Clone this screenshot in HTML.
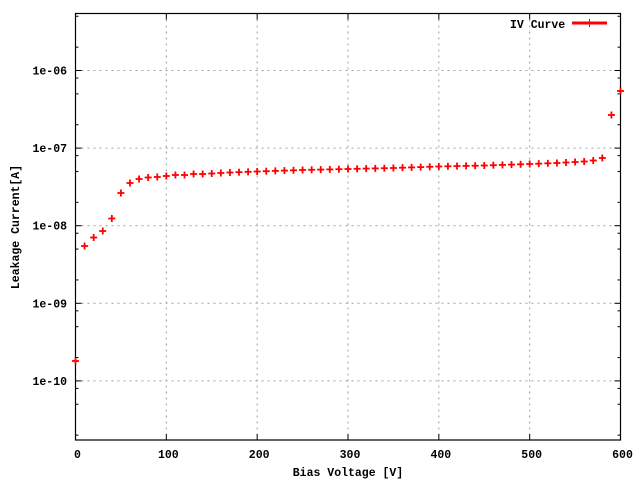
<!DOCTYPE html>
<html><head><meta charset="utf-8"><style>
html,body{margin:0;padding:0;background:#fff;}
text{font-family:"Liberation Mono","DejaVu Sans Mono",monospace;font-weight:bold;font-size:11.5px;fill:#000;}
</style></head><body>
<svg width="640" height="480" xmlns="http://www.w3.org/2000/svg" id="s">
<g id="grid" stroke="#a0a0a0" stroke-dasharray="2,4" stroke-width="1"></g>
<g id="ticks" stroke="#000" stroke-width="1"></g>
<rect x="75.5" y="13.5" width="545" height="426.5" fill="none" stroke="#000" stroke-width="1.2"/>
<g id="labels"></g>
<g id="pts" stroke="#f00" stroke-width="1.8"></g>
<text x="510" y="28">IV Curve</text>
<line x1="572" y1="23" x2="607" y2="23" stroke="#f00" stroke-width="3"/>
<line x1="589.5" y1="19" x2="589.5" y2="27" stroke="#f00" stroke-width="1"/>
<text x="348" y="476" text-anchor="middle">Bias Voltage [V]</text>
<text transform="translate(19,227) rotate(-90)" text-anchor="middle">Leakage Current[A]</text>
</svg>
<script>
var NS="http://www.w3.org/2000/svg";
function el(p,t,a,txt){var e=document.createElementNS(NS,t);for(var k in a)e.setAttribute(k,a[k]);if(txt)e.textContent=txt;document.getElementById(p).appendChild(e);}
var L=75.5,R=620.5,T=13.5,B=440;
function X(v){return L+v*(R-L)/600;}
var d0=70.5,dec=77.6;
function Yexp(e){return d0+(-6-e)*dec;}
for(var i=0;i<=6;i++){var x=X(i*100);
 if(i>0&&i<6) el("grid","line",{x1:x,y1:T,x2:x,y2:B});
 el("ticks","line",{x1:x,y1:B,x2:x,y2:B-6});el("ticks","line",{x1:x,y1:T,x2:x,y2:T+6});
 el("labels","text",{x:x+2,y:458,"text-anchor":"middle"},String(i*100));}
for(var e=-11;e<=-5;e++){var y=Yexp(e);
 if(y>T&&y<B){el("grid","line",{x1:L,y1:y,x2:R,y2:y});
  el("ticks","line",{x1:L,y1:y,x2:L+6,y2:y});el("ticks","line",{x1:R,y1:y,x2:R-6,y2:y});
  el("labels","text",{x:67,y:y+4,"text-anchor":"end"},"1e-"+(e<=-10?"":"0")+(-e));}
 [2,5,8].forEach(function(m){var yy=Yexp(e+Math.log10(m));if(yy>T&&yy<B){el("ticks","line",{x1:L,y1:yy,x2:L+3,y2:yy});el("ticks","line",{x1:R,y1:yy,x2:R-3,y2:yy});}});}
var py={0:361,10:246,20:237.5,30:231,40:218.5,50:193,60:183,70:179,80:177.5,90:177,100:176,110:175,120:175,130:174,140:174,150:173.5,160:173,170:172.5,200:171.5,250:170,300:169,350:168,400:166.5,450:165.5,500:164,530:163,550:162,560:161.5,570:160.5,580:158,590:115,600:91};
var keys=Object.keys(py).map(Number).sort(function(a,b){return a-b});
function gy(v){if(py[v]!==undefined)return py[v];for(var i=0;i<keys.length-1;i++){if(v>keys[i]&&v<keys[i+1]){var a=keys[i],b=keys[i+1];return py[a]+(py[b]-py[a])*(v-a)/(b-a);}}}
for(var v=0;v<=600;v+=10){var x=X(v),y=gy(v);
 el("pts","line",{x1:x-3.5,y1:y,x2:x+3.5,y2:y});el("pts","line",{x1:x,y1:y-3.5,x2:x,y2:y+3.5});}
</script>
</body></html>
